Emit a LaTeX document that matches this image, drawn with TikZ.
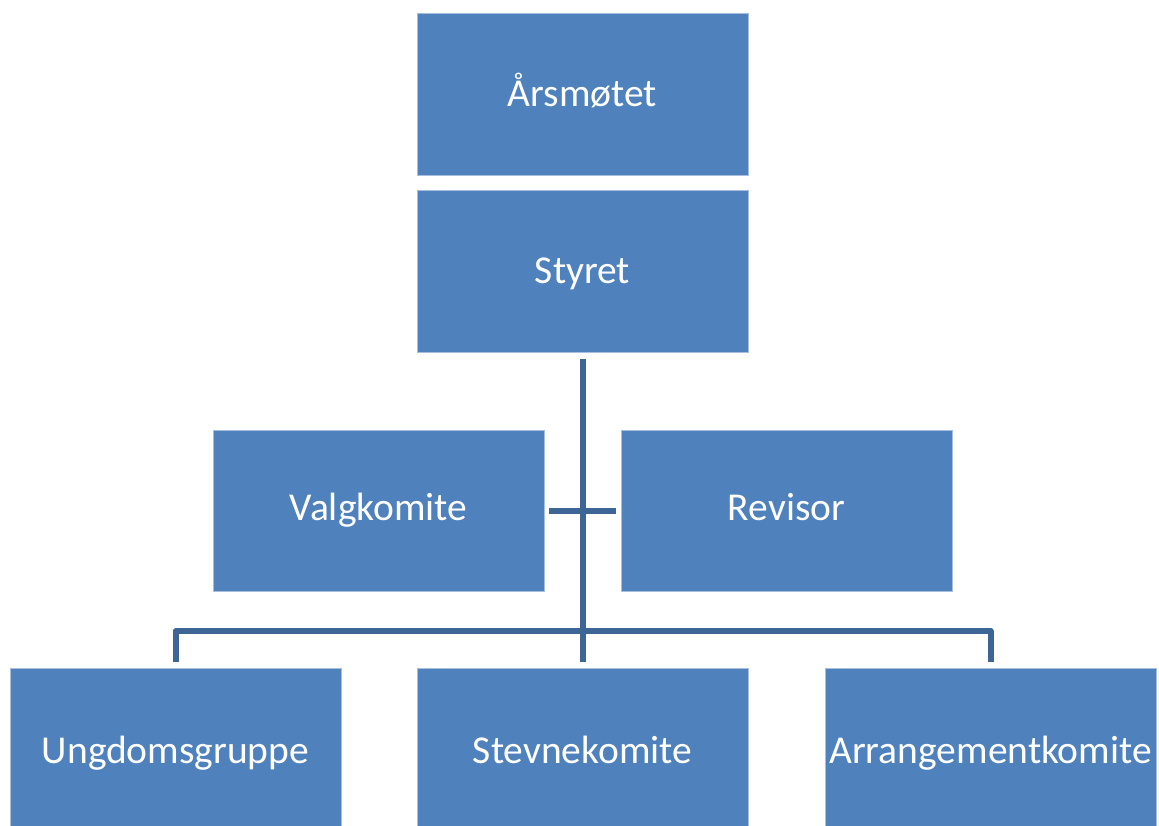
\documentclass[tikz,border=0pt]{standalone}
\usepackage{fontspec}
\setmainfont{Carlito}
\definecolor{boxblue}{HTML}{4F81BD}
\definecolor{lineblue}{HTML}{3D6696}
\definecolor{edgeblue}{HTML}{A7BEDC}
\begin{document}
\begin{tikzpicture}[x=1pt,y=-1pt,
  orgbox/.style={fill=boxblue,draw=edgeblue,line width=0.8pt,minimum width=331pt,minimum height=162pt,inner sep=0pt,text=white,text height=32pt,text depth=8pt,font=\fontsize{39.5}{48}\selectfont},
  lowbox/.style={orgbox,minimum height=164pt,text height=35pt},
  conn/.style={draw=lineblue,line width=6pt}]
\useasboundingbox (0,0) rectangle (1159,825);
\node[orgbox] (aars) at (582.5,94) {Årsmøtet};
\node[orgbox] (styret) at (582.5,271) {Styret};
\node[orgbox,minimum height=161pt,text height=28pt] (valg) at (378.5,510.5) {Valgkomite};
\node[orgbox,minimum height=161pt,text height=28pt] (rev) at (786.5,510.5) {Revisor};
\node[lowbox] (ung) at (175.5,750) {Ungdomsgruppe};
\node[lowbox] (stevne) at (582.5,750) {Stevnekomite};
\node[lowbox] (arr) at (990.5,750) {Arrangementkomite};
\coordinate (top) at ([yshift=-7pt]styret.south);
\coordinate (cl) at ([xshift=5pt]valg.east);
\coordinate (cr) at ([xshift=-5pt]rev.west);
\coordinate (bar) at (582.5,631);
\draw[conn] (top) -- ([yshift=6pt]stevne.north);
\draw[conn] (cl |- valg.east) -- (cr |- rev.west);
\draw[conn,line join=round] ([yshift=6pt]ung.north) -- (ung.north |- bar) -- (arr.north |- bar) -- ([yshift=6pt]arr.north);
\end{tikzpicture}
\end{document}
